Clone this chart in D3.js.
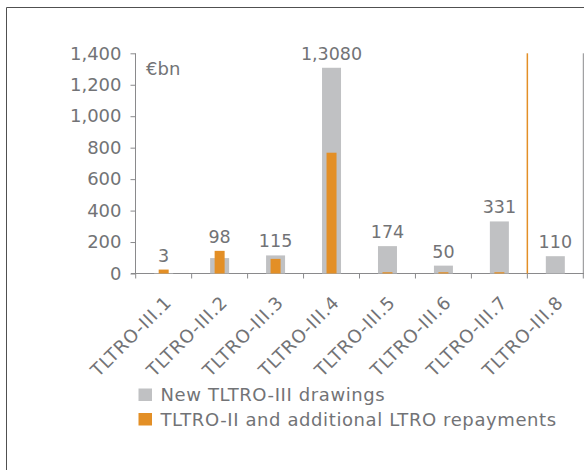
<!DOCTYPE html>
<html><head><meta charset="utf-8">
<script src="https://cdn.jsdelivr.net/npm/d3@7"></script>
<style>
html,body{margin:0;padding:0;background:#fff;}
svg{display:block;font-family:"DejaVu Sans",Verdana,sans-serif;}
</style></head>
<body>
<svg id="c" width="584" height="470"></svg>
<script>
const categories = ["TLTRO-III.1","TLTRO-III.2","TLTRO-III.3","TLTRO-III.4","TLTRO-III.5","TLTRO-III.6","TLTRO-III.7","TLTRO-III.8"];
const newDrawings = [3, 98, 115, 1308, 174, 50, 331, 110];
const repayments = [25, 144, 93, 768, 8, 8, 8, 0];
const valueLabels = ["3","98","115","1,3080","174","50","331","110"];
const yTicks = [0,200,400,600,800,1000,1200,1400];
const seriesNames = ["New TLTRO-III drawings","TLTRO-II and additional LTRO repayments"];
const unitLabel = "€bn";
const markerCategory = "TLTRO-III.8";

const grey = "#c0c1c3", orange = "#e38f26", textCol = "#727376", axisCol = "#8a8a8c";
const svg = d3.select("#c");

// frame
svg.append("path").attr("d","M6.5,470 V7.5 H584").attr("fill","none").attr("stroke","#505050").attr("stroke-width",1);

const x = d3.scaleBand().domain(categories).range([135.7, 583.3]).padding(0);
const y = d3.scaleLinear().domain([0,1400]).range([273.5, 53.3]);

// y axis
const ya = svg.append("g").attr("transform","translate(135.5,0)")
  .call(d3.axisLeft(y).tickValues(yTicks).tickSize(5).tickPadding(9).tickFormat(d3.format(",")));
ya.select(".domain").attr("stroke",axisCol).attr("d","M0,"+y(1400)+"V"+y(0));
ya.selectAll(".tick line").attr("stroke",axisCol);
ya.selectAll(".tick text").attr("fill",textCol).style("font-size","18px").style("font-family","DejaVu Sans");

// x axis
const xa = svg.append("g").attr("transform","translate(0,"+y(0)+")");
xa.append("line").attr("x1",131).attr("x2",584).attr("stroke",axisCol);
const bounds = categories.map(c=>x(c)).concat([x(categories[categories.length-1])+x.bandwidth()]);
xa.selectAll("line.tk").data(bounds).join("line").attr("class","tk")
  .attr("x1",d=>d).attr("x2",d=>d).attr("y1",0).attr("y2",5).attr("stroke",axisCol);
xa.selectAll("text").data(categories).join("text")
  .attr("transform",d=>"translate("+(x(d)+x.bandwidth()/2+9)+",30) rotate(-45)")
  .attr("text-anchor","end").attr("fill",textCol).style("font-size","18px").style("letter-spacing","0.8px").text(d=>d);

// right plot edge
svg.append("line").attr("x1",583.3).attr("x2",583.3).attr("y1",y(1400)).attr("y2",y(0)).attr("stroke",axisCol);

// bars
const cx = d => x(d)+x.bandwidth()/2;
svg.append("g").selectAll("rect").data(categories).join("rect")
  .attr("x",(d)=>cx(d)-9.5).attr("width",19)
  .attr("y",(d,i)=>y(newDrawings[i])).attr("height",(d,i)=>y(0)-y(newDrawings[i]))
  .attr("fill",grey);
svg.append("g").selectAll("rect").data(categories).join("rect")
  .attr("x",(d)=>cx(d)-5).attr("width",10)
  .attr("y",(d,i)=>y(repayments[i])).attr("height",(d,i)=>y(0)-y(repayments[i]))
  .attr("fill",orange);

// marker line
svg.append("line").attr("x1",x(markerCategory)).attr("x2",x(markerCategory))
  .attr("y1",y(1400)).attr("y2",y(0)).attr("stroke",orange).attr("stroke-width",1.5);

// value labels
svg.append("g").selectAll("text").data(categories).join("text")
  .attr("x",d=>cx(d)).attr("y",(d,i)=>y(Math.max(newDrawings[i],repayments[i]))-8)
  .attr("text-anchor","middle").attr("fill",textCol).style("font-size","17.5px")
  .text((d,i)=>valueLabels[i]);

// unit label
svg.append("text").attr("x",146).attr("y",75).attr("fill",textCol).style("font-size","18px").text(unitLabel);

// legend
const lg = svg.append("g");
[grey, orange].forEach((col,i)=>{
  lg.append("rect").attr("x",138.5).attr("y",388.5+i*24.5).attr("width",13.5).attr("height",12.5).attr("fill",col);
  lg.append("text").attr("x",160.5).attr("y",401+i*24.5).attr("fill",textCol).style("font-size","18px").style("letter-spacing","0.6px").text(seriesNames[i]);
});
</script>
</body></html>
